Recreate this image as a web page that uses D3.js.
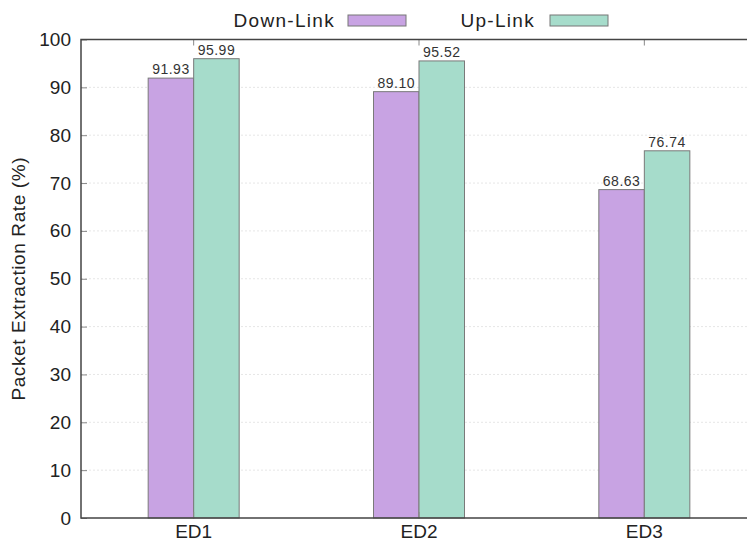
<!DOCTYPE html>
<html lang="en">
<head>
  <meta charset="UTF-8">
  <title>Packet Extraction Rate</title>
  <script src="https://d3js.org/d3.v7.min.js"></script>
  <style>
    body { margin: 0; background: #fff; }
    svg { display: block; font-family: "Liberation Sans", Arial, sans-serif; }
  </style>
</head>
<body>
  <script>
    // data
    var categories = ["ED1", "ED2", "ED3"];
    var seriesNames = ["Down-Link", "Up-Link"];
    var downLink = [91.93, 89.10, 68.63];
    var upLink = [95.99, 95.52, 76.74];
    var yTicks = [0, 10, 20, 30, 40, 50, 60, 70, 80, 90, 100];
    var colors = ["#c8a3e3", "#a6dccb"];

    var width = 747, height = 545;
    var plot = { left: 81, right: 757, top: 39.5, bottom: 518 };

    var rows = categories.map(function(c, i) {
      return { cat: c, values: [downLink[i], upLink[i]] };
    });

    var svg = d3.select("body").append("svg")
        .attr("width", width)
        .attr("height", height);

    var x = d3.scaleBand()
        .domain(categories)
        .range([plot.left, plot.right]);

    var barW = 45.5;
    var x1 = d3.scaleBand()
        .domain(seriesNames)
        .range([-barW, barW]);

    var y = d3.scaleLinear()
        .domain([0, 100])
        .range([plot.bottom, plot.top]);

    // grid lines
    svg.append("g")
      .selectAll("line")
      .data(yTicks.slice(1, -1))
      .enter().append("line")
        .attr("x1", plot.left)
        .attr("x2", plot.right)
        .attr("y1", function(d) { return y(d); })
        .attr("y2", function(d) { return y(d); })
        .attr("stroke", "#e6e6e6")
        .attr("stroke-width", 1)
        .attr("stroke-dasharray", "2,2");

    // bars
    var group = svg.append("g")
      .selectAll("g")
      .data(rows)
      .enter().append("g")
        .attr("transform", function(d) { return "translate(" + (x(d.cat) + x.bandwidth() / 2) + ",0)"; });

    group.selectAll("rect")
      .data(function(d) { return d.values.map(function(v, j) { return { v: v, s: seriesNames[j], j: j }; }); })
      .enter().append("rect")
        .attr("x", function(d) { return x1(d.s); })
        .attr("width", x1.bandwidth())
        .attr("y", function(d) { return y(d.v); })
        .attr("height", function(d) { return y(0) - y(d.v); })
        .attr("fill", function(d) { return colors[d.j]; })
        .attr("stroke", "#7a7a7a")
        .attr("stroke-width", 1);

    group.selectAll("text")
      .data(function(d) { return d.values.map(function(v, j) { return { v: v, s: seriesNames[j] }; }); })
      .enter().append("text")
        .attr("x", function(d) { return x1(d.s) + x1.bandwidth() / 2; })
        .attr("y", function(d) { return y(d.v) - 4; })
        .attr("text-anchor", "middle")
        .attr("font-size", 14)
        .attr("letter-spacing", 0.5)
        .attr("fill", "#333")
        .text(function(d) { return d.v.toFixed(2); });

    // axes
    var yAxis = d3.axisLeft(y).tickValues(yTicks).tickSize(-6).tickPadding(10);
    var gy = svg.append("g")
        .attr("transform", "translate(" + plot.left + ",0)")
        .call(yAxis);
    gy.select(".domain").remove();
    gy.selectAll(".tick line").attr("stroke", "#888");
    gy.selectAll(".tick text").attr("font-size", 19).attr("fill", "#222")
        .attr("font-family", "Liberation Sans, Arial, sans-serif");

    var xAxis = d3.axisBottom(x).tickSize(-6).tickPadding(7);
    var gx = svg.append("g")
        .attr("transform", "translate(0," + plot.bottom + ")")
        .call(xAxis);
    gx.select(".domain").remove();
    gx.selectAll(".tick line").attr("stroke", "#888");
    gx.selectAll(".tick text").attr("font-size", 19).attr("fill", "#222")
        .attr("font-family", "Liberation Sans, Arial, sans-serif");

    var xTop = d3.axisTop(x).tickSize(-6).tickFormat("");
    var gt = svg.append("g")
        .attr("transform", "translate(0," + plot.top + ")")
        .call(xTop);
    gt.select(".domain").remove();
    gt.selectAll(".tick line").attr("stroke", "#888");

    // frame lines
    svg.append("path")
        .attr("d", "M" + plot.right + "," + plot.top + "H" + plot.left + "V" + plot.bottom + "H" + plot.right)
        .attr("fill", "none")
        .attr("stroke", "#444")
        .attr("stroke-width", 1.5);

    // y title
    svg.append("text")
        .attr("transform", "translate(25," + ((plot.top + plot.bottom) / 2) + ") rotate(-90)")
        .attr("text-anchor", "middle")
        .attr("font-size", 19)
        .attr("letter-spacing", 0.6)
        .attr("fill", "#222")
        .text("Packet Extraction Rate (%)");

    // legend
    var legendX = [335, 535];
    var legend = svg.append("g")
      .selectAll("g")
      .data(seriesNames)
      .enter().append("g")
        .attr("transform", function(d, i) { return "translate(" + legendX[i] + ",20)"; });

    legend.append("text")
        .attr("text-anchor", "end")
        .attr("dy", "0.35em")
        .attr("font-size", 19)
        .attr("letter-spacing", 1.3)
        .attr("fill", "#222")
        .text(function(d) { return d; });

    legend.append("rect")
        .attr("x", function(d, i) { return i === 0 ? 13 : 15; })
        .attr("y", -5)
        .attr("width", 58)
        .attr("height", 11)
        .attr("fill", function(d, i) { return colors[i]; })
        .attr("stroke", "#777")
        .attr("stroke-width", 1);
  </script>
</body>
</html>
